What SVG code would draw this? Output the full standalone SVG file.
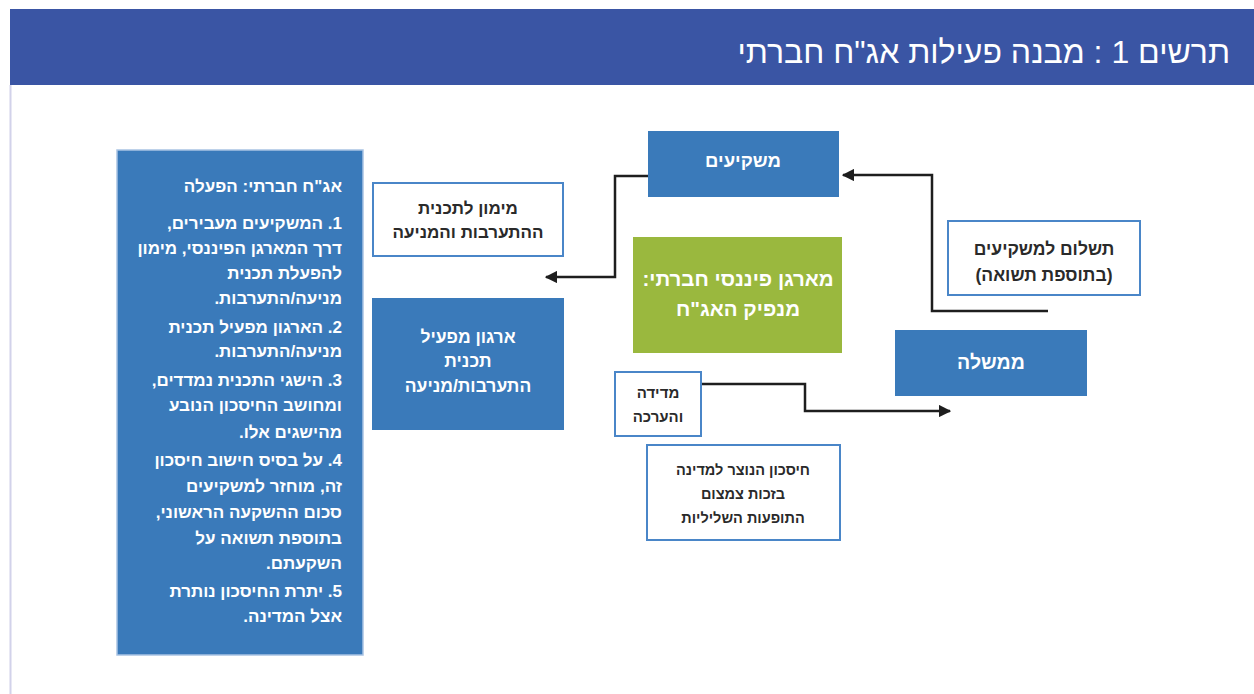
<svg xmlns="http://www.w3.org/2000/svg" width="1254" height="694" viewBox="0 0 1254 694">
<style>
.t{font-family:"Liberation Sans","DejaVu Sans",sans-serif;font-weight:bold;direction:rtl}
.w{fill:#ffffff}
.d{fill:#2a2a2a}
.c{text-anchor:middle}
.r{text-anchor:start}
.blue{fill:#3a7aba}
.wb{fill:#ffffff;stroke:#4a86c8;stroke-width:2}
.ln{fill:none;stroke:#1e1e1e;stroke-width:2.5}
</style>
<defs>
<marker id="ah" viewBox="0 0 10 10" refX="9" refY="5" markerWidth="5" markerHeight="5" orient="auto" markerUnits="strokeWidth">
<path d="M0,0 L10,5 L0,10 z" fill="#1e1e1e"/>
</marker>
</defs>
<rect x="0" y="0" width="1254" height="694" fill="#ffffff"/>
<g id="header">
<rect x="10" y="9" width="1244" height="76" fill="#3a55a4"/>
<line x1="10.5" y1="85" x2="10.5" y2="694" stroke="#d2d2ea" stroke-width="2"/>
<text x="1230" y="63" class="r" style="font-family:'Liberation Sans','DejaVu Sans',sans-serif;direction:rtl;font-size:32px;fill:#ffffff">תרשים 1 : מבנה פעילות אג"ח חברתי</text>
</g>
<g id="connectors">
<polyline class="ln" points="648,176 615,176 615,277 546,277" marker-end="url(#ah)"/>
<polyline class="ln" points="1048,311 932,311 932,175 843,175" marker-end="url(#ah)"/>
<polyline class="ln" points="700,384 805,384 805,411 950,411" marker-end="url(#ah)"/>
</g>
<g id="steps">
<rect x="117" y="150" width="246" height="505" class="blue" stroke="#a9c3e3" stroke-width="1.5"/>
<g class="t w r" style="font-size:17px">
<text x="342" y="192">אג"ח חברתי: הפעלה</text>
<text x="342" y="229">1. המשקיעים מעבירים,</text>
<text x="342" y="254">דרך המארגן הפיננסי, מימון</text>
<text x="342" y="279">להפעלת תכנית</text>
<text x="342" y="304">מניעה/התערבות.</text>
<text x="342" y="333">2. הארגון מפעיל תכנית</text>
<text x="342" y="357">מניעה/התערבות.</text>
<text x="342" y="386">3. הישגי התכנית נמדדים,</text>
<text x="342" y="411">ומחושב החיסכון הנובע</text>
<text x="342" y="438">מהישגים אלו.</text>
<text x="342" y="466">4. על בסיס חישוב חיסכון</text>
<text x="342" y="492">זה, מוחזר למשקיעים</text>
<text x="342" y="518">סכום ההשקעה הראשוני,</text>
<text x="342" y="544">בתוספת תשואה על</text>
<text x="342" y="569">השקעתם.</text>
<text x="342" y="597">5. יתרת החיסכון נותרת</text>
<text x="342" y="622">אצל המדינה.</text>
</g>
</g>
<g id="funding">
<rect x="373" y="183" width="190" height="73" class="wb"/>
<text x="468" y="214" class="t d c" style="font-size:17px">מימון לתכנית</text>
<text x="468" y="238" class="t d c" style="font-size:17px">ההתערבות והמניעה</text>
</g>
<g id="operator">
<rect x="372" y="298" width="192" height="132" class="blue"/>
<text x="468" y="343" class="t w c" style="font-size:17.5px">ארגון מפעיל</text>
<text x="468" y="367" class="t w c" style="font-size:17.5px">תכנית</text>
<text x="468" y="392" class="t w c" style="font-size:17.5px">התערבות/מניעה</text>
</g>
<g id="investors">
<rect x="648" y="131" width="191" height="66" class="blue"/>
<text x="743" y="167" class="t w c" style="font-size:18.5px">משקיעים</text>
</g>
<g id="organizer">
<rect x="633" y="237" width="209" height="116" fill="#9ab83e"/>
<text x="738" y="286" class="t w c" style="font-size:20.5px">מארגן פיננסי חברתי:</text>
<text x="738" y="316" class="t w c" style="font-size:20.5px">מנפיק האג"ח</text>
</g>
<g id="measure">
<rect x="615" y="372" width="86" height="64" class="wb"/>
<text x="658" y="398" class="t d c" style="font-size:15px">מדידה</text>
<text x="658" y="422" class="t d c" style="font-size:15px">והערכה</text>
</g>
<g id="savings">
<rect x="647" y="445" width="193" height="95" class="wb"/>
<text x="743" y="475" class="t d c" style="font-size:14.5px">חיסכון הנוצר למדינה</text>
<text x="743" y="499" class="t d c" style="font-size:14.5px">בזכות צמצום</text>
<text x="743" y="523" class="t d c" style="font-size:14.5px">התופעות השליליות</text>
</g>
<g id="government">
<rect x="895" y="330" width="192" height="66" class="blue"/>
<text x="991" y="369" class="t w c" style="font-size:19.5px">ממשלה</text>
</g>
<g id="payment">
<rect x="948" y="221" width="192" height="74" class="wb"/>
<text x="1044" y="255" class="t d c" style="font-size:17.5px">תשלום למשקיעים</text>
<text x="1044" y="281" class="t d c" style="font-size:17.5px">(בתוספת תשואה)</text>
</g>
</svg>
